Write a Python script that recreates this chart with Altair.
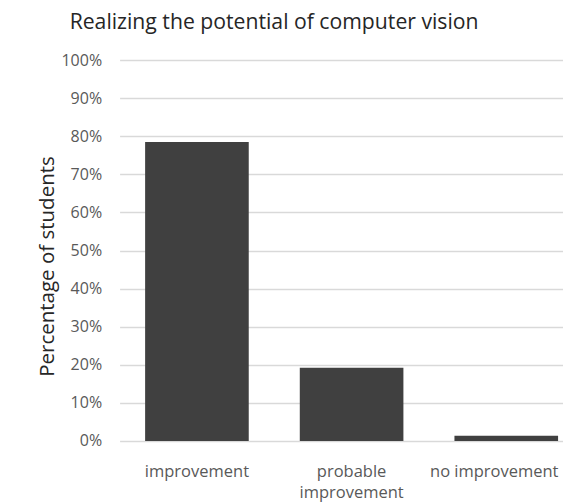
import altair as alt
import pandas as pd

categories = ["improvement", "probable improvement", "no improvement"]
percentages = [78.5, 19.2, 1.4]
y_ticks = [0, 10, 20, 30, 40, 50, 60, 70, 80, 90, 100]

df = pd.DataFrame({"category": categories, "pct": percentages})

FONT = "Open Sans"
LABEL_COLOR = "#595959"

chart = (
    alt.Chart(df)
    .mark_bar(color="#404040")
    .encode(
        x=alt.X(
            "category:N",
            sort=categories,
            scale=alt.Scale(range=[0, 464], paddingInner=0.33, paddingOuter=0.165),
            axis=alt.Axis(
                title=None,
                labelAngle=0,
                domain=False,
                ticks=False,
                grid=False,
                labelPadding=23,
                labelFont=FONT,
                labelFontSize=16.5,
                labelColor=LABEL_COLOR,
                labelLineHeight=21,
                labelOffset={
                    "condition": {"test": "datum.value == 'no improvement'", "value": -12},
                    "value": 0,
                },
                labelExpr="datum.label == 'probable improvement' ? ['probable', 'improvement'] : datum.label",
            ),
        ),
        y=alt.Y(
            "pct:Q",
            scale=alt.Scale(domain=[0, 100], nice=False),
            axis=alt.Axis(
                title="Percentage of students",
                values=y_ticks,
                labelExpr="datum.value + '%'",
                domain=False,
                ticks=False,
                labelPadding=18,
                labelFont=FONT,
                labelFontSize=16,
                labelColor=LABEL_COLOR,
                gridColor="#d9d9d9",
                gridWidth=1.5,
                titleFont=FONT,
                titleFontSize=20.5,
                titleFontWeight="normal",
                titleColor="#262626",
                titlePadding=3,
                titleY=206,
            ),
        ),
    )
    .properties(
        width=443,
        height=381,
        background="white",
        title=alt.TitleParams(
            "Realizing the potential of computer vision",
            font=FONT,
            fontSize=21.2,
            fontWeight="normal",
            color="#262626",
            anchor="middle",
            dx=-67,
            offset=19,
        ),
        autosize=alt.AutoSizeParams(type="none"),
        padding={"left": 111.6, "top": 52, "right": 0, "bottom": 62},
    )
    .configure_view(strokeWidth=0, stroke="transparent")
)

chart.save("out.html", embed_options={"renderer": "svg", "actions": False})
